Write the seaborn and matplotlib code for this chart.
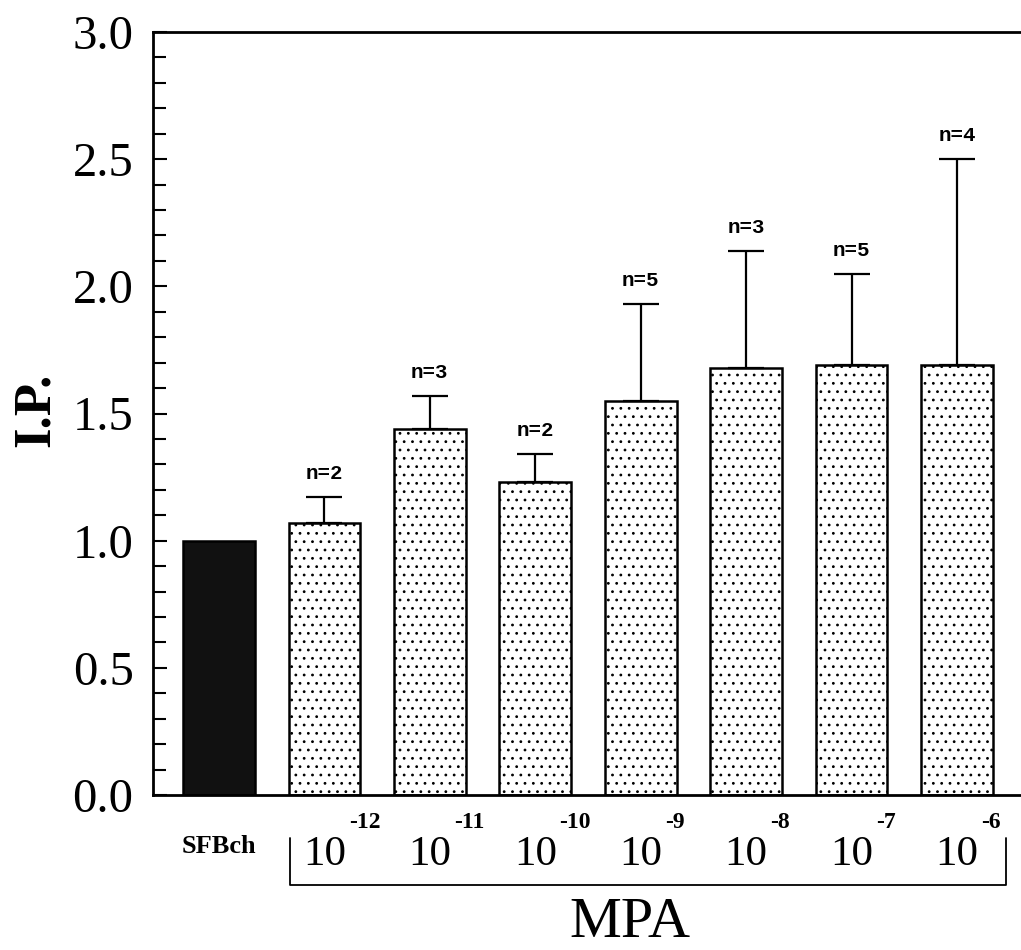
import matplotlib
matplotlib.use("Agg")
import matplotlib.pyplot as plt
import matplotlib.transforms as mtransforms
from matplotlib.ticker import MultipleLocator
import seaborn as sns
import pandas as pd

# values
groups = ["SFBch", "1e-12", "1e-11", "1e-10", "1e-9", "1e-8", "1e-7", "1e-6"]
tick_labels = ["SFBch", "10", "10", "10", "10", "10", "10", "10"]
exponents = ["", "-12", "-11", "-10", "-9", "-8", "-7", "-6"]
ip_mean = [1.00, 1.07, 1.44, 1.23, 1.55, 1.68, 1.69, 1.69]
ip_err = [0.00, 0.10, 0.13, 0.11, 0.38, 0.46, 0.36, 0.81]
n_labels = ["", "n=2", "n=3", "n=2", "n=5", "n=3", "n=5", "n=4"]
bar_colors = ["#111111", "white", "white", "white", "white", "white", "white", "white"]

sns.set_style("ticks")
plt.rcParams["font.family"] = ["Liberation Serif", "DejaVu Serif"]
plt.rcParams["text.color"] = "black"
plt.rcParams["axes.labelcolor"] = "black"
plt.rcParams["xtick.color"] = "black"
plt.rcParams["ytick.color"] = "black"
plt.rcParams["axes.edgecolor"] = "black"
plt.rcParams["hatch.linewidth"] = 0.8

df = pd.DataFrame({"group": groups, "ip": ip_mean, "err": ip_err})

fig = plt.figure(figsize=(10.21, 9.5), dpi=100)
ax = fig.add_axes([153 / 1021, 155 / 950, 868 / 1021, 763 / 950])

sns.barplot(data=df, x="group", y="ip", hue="group", palette=bar_colors,
            order=groups, width=0.68, edgecolor="black", linewidth=1.8,
            legend=False, ax=ax)

for i, p in enumerate(ax.patches):
    if i > 0:
        p.set_hatch("..")

xpos = list(range(len(groups)))
ax.errorbar(xpos[1:], ip_mean[1:], yerr=[[0] * 7, ip_err[1:]], fmt="none",
            ecolor="black", elinewidth=1.6, capsize=13, capthick=1.6)

for x, m, e, lab in zip(xpos, ip_mean, ip_err, n_labels):
    if lab:
        ax.text(x, m + e + 0.055, lab, ha="center", va="bottom", fontsize=15,
                fontweight="bold", family="Liberation Mono")

ax.set_xlim(-0.626, 7.607)
ax.set_ylim(0, 3.0)
ax.yaxis.set_major_locator(MultipleLocator(0.5))
ax.yaxis.set_minor_locator(MultipleLocator(0.1))
ax.tick_params(axis="y", which="major", direction="in", length=10, width=1.5,
               labelsize=35, pad=14)
ax.tick_params(axis="y", which="minor", direction="in", length=9, width=1.5)
ax.set_yticklabels([f"{v:.1f}" for v in ax.get_yticks()])

ax.set_xticks(xpos)
ax.set_xticklabels(tick_labels)
ax.tick_params(axis="x", length=0, pad=29, labelsize=31)
xl = ax.get_xticklabels()
xl[0].set_fontsize(19)
xl[0].set_fontweight("bold")

trans = mtransforms.blended_transform_factory(ax.transData, ax.transAxes)
for x, ex in zip(xpos, exponents):
    if ex:
        ax.text(x + 0.23, -0.036, ex, ha="left", va="center", fontsize=17,
                fontweight="bold", transform=trans)

for side in ["left", "bottom", "top"]:
    ax.spines[side].set_linewidth(2)
ax.spines["right"].set_visible(False)

ax.set_xlabel("")
ax.set_ylabel("I.P.", fontsize=38, fontweight="bold")
ax.yaxis.set_label_coords(-0.108, 0.505)

# bracket under the MPA concentrations
ax.plot([0.674, 0.674, 7.46, 7.46], [-0.056, -0.118, -0.118, -0.056],
        color="black", lw=1.3, transform=trans, clip_on=False)

fig.text(630 / 1021, 1 - 923 / 950, "MPA", ha="center", va="center", fontsize=42)

fig.savefig("out.png", dpi=100)
